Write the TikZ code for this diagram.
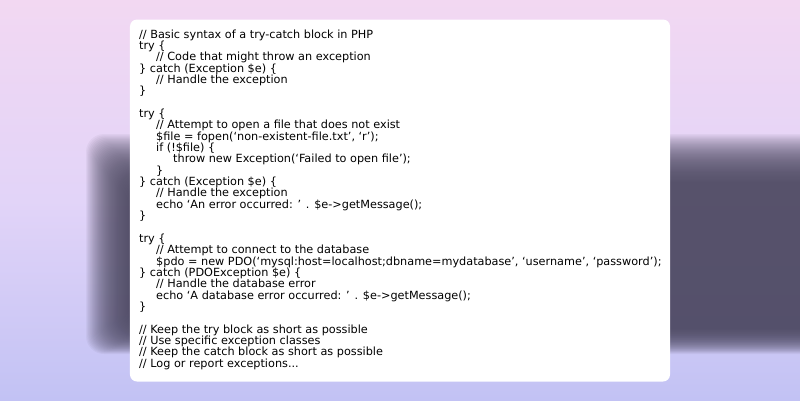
\documentclass[tikz,border=0pt]{standalone}
\usepackage{fontspec}
\setmainfont{DejaVu Sans}
\usetikzlibrary{positioning}
\definecolor{bgtop}{HTML}{F2D8F2}
\definecolor{bgmid}{HTML}{E2D4F8}
\definecolor{bgbot}{HTML}{C2C2F4}
\definecolor{shadowgray}{HTML}{4E4A62}
\newcommand{\ind}{\hspace*{17bp}}
\begin{document}
\begin{tikzpicture}[x=1bp, y=-1bp,
  cardbox/.style={fill=white, rounded corners=7bp, minimum width=540bp, minimum height=362bp, inner sep=0pt},
  codetext/.style={align=left, inner sep=0pt, anchor=north west, font=\fontsize{11.3}{11.38}\selectfont}]
\useasboundingbox (0,0) rectangle (800,400);
% background
\shade[top color=bgtop, bottom color=bgbot, middle color=bgmid] (0,0) rectangle (800,400);
% soft dark band behind the card
\foreach \i in {0,...,39}
  \fill[shadowgray, opacity=0.055, rounded corners=18bp] (86+1.1*\i,134+1.25*\i) rectangle (830,354-0.65*\i);
\node [cardbox] (card) at (400,200.5) {};
\node [codetext] (code) at (139,29.5) {%
// Basic syntax of a try-catch block in PHP\\
try \{\\
\ind// Code that might throw an exception\\
\} catch (Exception \$e) \{\\
\ind// Handle the exception\\
\}\\
\mbox{}\\
try \{\\
\ind// Attempt to open a file that does not exist\\
\ind\$file = fopen(‘non-existent-file.txt’, ‘r’);\\
\ind if (!\$file) \{\\
\ind\ind throw new Exception(‘Failed to open file’);\\
\ind\}\\
\} catch (Exception \$e) \{\\
\ind// Handle the exception\\
\ind echo ‘An error occurred: ’ . \$e->getMessage();\\
\}\\
\mbox{}\\
try \{\\
\ind// Attempt to connect to the database\\
\ind\$pdo = new PDO(‘mysql:host=localhost;dbname=mydatabase’, ‘username’, ‘password’);\\
\} catch (PDOException \$e) \{\\
\ind// Handle the database error\\
\ind echo ‘A database error occurred: ’ . \$e->getMessage();\\
\}\\
\mbox{}\\
// Keep the try block as short as possible\\
// Use specific exception classes\\
// Keep the catch block as short as possible\\
// Log or report exceptions...};
\end{tikzpicture}
\end{document}
